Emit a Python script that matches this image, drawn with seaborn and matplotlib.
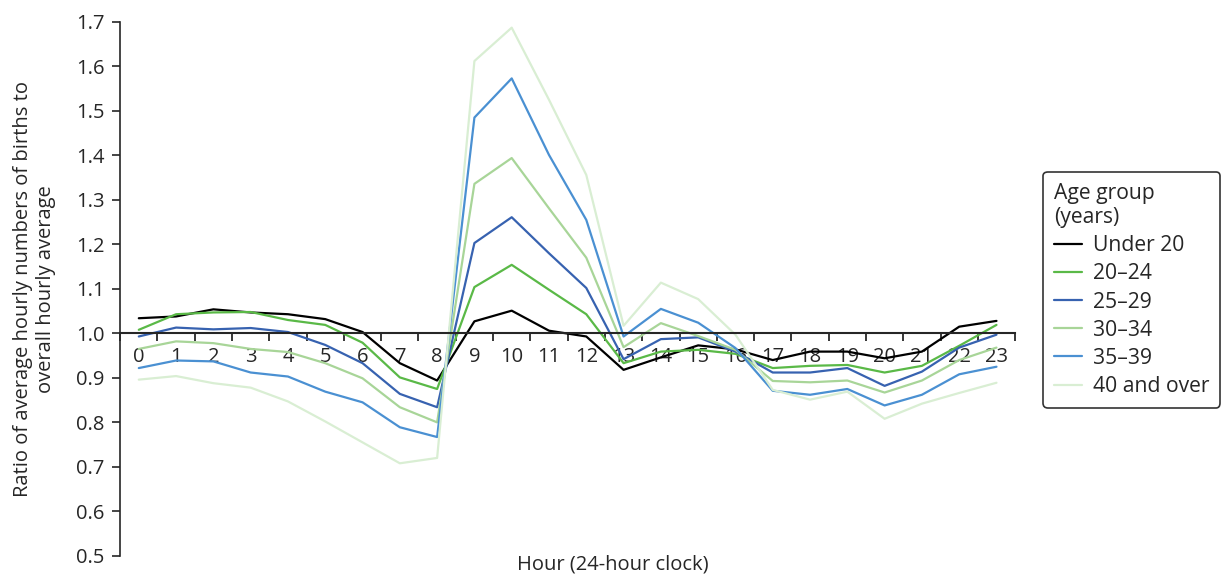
import matplotlib
matplotlib.use("Agg")
import matplotlib.pyplot as plt
import numpy as np
import pandas as pd
import seaborn as sns

# Hours of the day and ratio of births per hour to overall hourly average
HOURS = list(range(24))
AGE_GROUPS = ["Under 20", "20\u201324", "25\u201329", "30\u201334", "35\u201339", "40 and over"]

under_20 = [1.034, 1.038, 1.054, 1.047, 1.043, 1.032, 1.003, 0.933, 0.894, 1.027, 1.051, 1.006,
            0.993, 0.918, 0.946, 0.973, 0.964, 0.940, 0.959, 0.959, 0.944, 0.959, 1.015, 1.028]
age_20_24 = [1.008, 1.043, 1.047, 1.048, 1.030, 1.019, 0.979, 0.901, 0.875, 1.104, 1.154, 1.098,
             1.043, 0.933, 0.959, 0.963, 0.954, 0.922, 0.927, 0.929, 0.912, 0.927, 0.972, 1.019]
age_25_29 = [0.993, 1.013, 1.009, 1.012, 1.003, 0.974, 0.933, 0.864, 0.834, 1.203, 1.261, 1.180,
             1.102, 0.942, 0.987, 0.991, 0.959, 0.912, 0.912, 0.922, 0.882, 0.914, 0.968, 0.997]
age_30_34 = [0.965, 0.982, 0.978, 0.965, 0.958, 0.933, 0.899, 0.834, 0.800, 1.336, 1.394, 1.281,
             1.170, 0.969, 1.023, 0.994, 0.963, 0.893, 0.890, 0.894, 0.867, 0.894, 0.940, 0.968]
age_35_39 = [0.922, 0.939, 0.937, 0.912, 0.903, 0.869, 0.845, 0.789, 0.767, 1.485, 1.573, 1.401,
             1.255, 0.993, 1.055, 1.024, 0.967, 0.871, 0.862, 0.875, 0.838, 0.862, 0.908, 0.925]
age_40_plus = [0.896, 0.904, 0.888, 0.878, 0.847, 0.802, 0.755, 0.708, 0.720, 1.612, 1.687, 1.525,
               1.356, 1.017, 1.114, 1.077, 0.997, 0.873, 0.851, 0.869, 0.808, 0.842, 0.866, 0.889]

COLORS = ["#000000", "#5ab947", "#3762b0", "#a8d598", "#4a90d2", "#d9eed3"]

series = [under_20, age_20_24, age_25_29, age_30_34, age_35_39, age_40_plus]
df = pd.concat(
    [pd.DataFrame({"hour": HOURS, "ratio": vals, "group": name})
     for name, vals in zip(AGE_GROUPS, series)],
    ignore_index=True,
)

sns.set_style("ticks")
plt.rcParams["font.family"] = ["Open Sans", "DejaVu Sans"]
FS = 14.5

fig = plt.figure(figsize=(12.26, 5.76), dpi=100)
ax = fig.add_axes([0.098, 0.035, 0.730, 0.927])

sns.lineplot(data=df, x="hour", y="ratio", hue="group", hue_order=AGE_GROUPS,
             palette=dict(zip(AGE_GROUPS, COLORS)), linewidth=1.6, ax=ax, legend=True)

yt = np.arange(0.5, 1.71, 0.1)
ax.set_xlim(-0.5, 23.5)
ax.set_ylim(0.5, 1.7)
ax.set_yticks(yt)
ax.set_yticklabels([f"{v:.1f}" for v in yt], fontsize=FS)

# x axis crosses at 1.0, ticks between categories
ax.spines["top"].set_visible(False)
ax.spines["right"].set_visible(False)
ax.spines["bottom"].set_position(("data", 1.0))
ax.spines["bottom"].set_linewidth(1.5)
ax.spines["left"].set_linewidth(1.2)
ax.set_xticks(HOURS)
ax.set_xticklabels([str(h) for h in HOURS], fontsize=FS)
ax.set_xticks(np.arange(-0.5, 24, 1), minor=True)
ax.tick_params(axis="x", which="major", length=0, pad=10)
ax.tick_params(axis="x", which="minor", length=6, width=1.3, direction="out")
ax.tick_params(axis="y", length=6, width=1.2, direction="out", pad=5)

ax.set_xlabel("Hour (24-hour clock)", fontsize=FS, va="center")
ax.xaxis.set_label_coords(0.55, -0.017)
ax.set_ylabel("Ratio of average hourly numbers of births to\noverall hourly average",
              fontsize=FS, va="center")
ax.yaxis.set_label_coords(-0.096, 0.5)

handles, labels = ax.get_legend_handles_labels()
ax.legend(handles, labels, title="Age group\n(years)", loc="upper left",
          bbox_to_anchor=(0.851, 0.701), bbox_transform=fig.transFigure,
          borderaxespad=0, fontsize=15.2, title_fontsize=15.2, frameon=True, fancybox=True,
          edgecolor="black", handlelength=1.35, handletextpad=0.5,
          labelspacing=0.34, alignment="left", borderpad=0.5)
ax.get_legend().get_frame().set_linewidth(1.2)

fig.savefig("out.png", dpi=100)
